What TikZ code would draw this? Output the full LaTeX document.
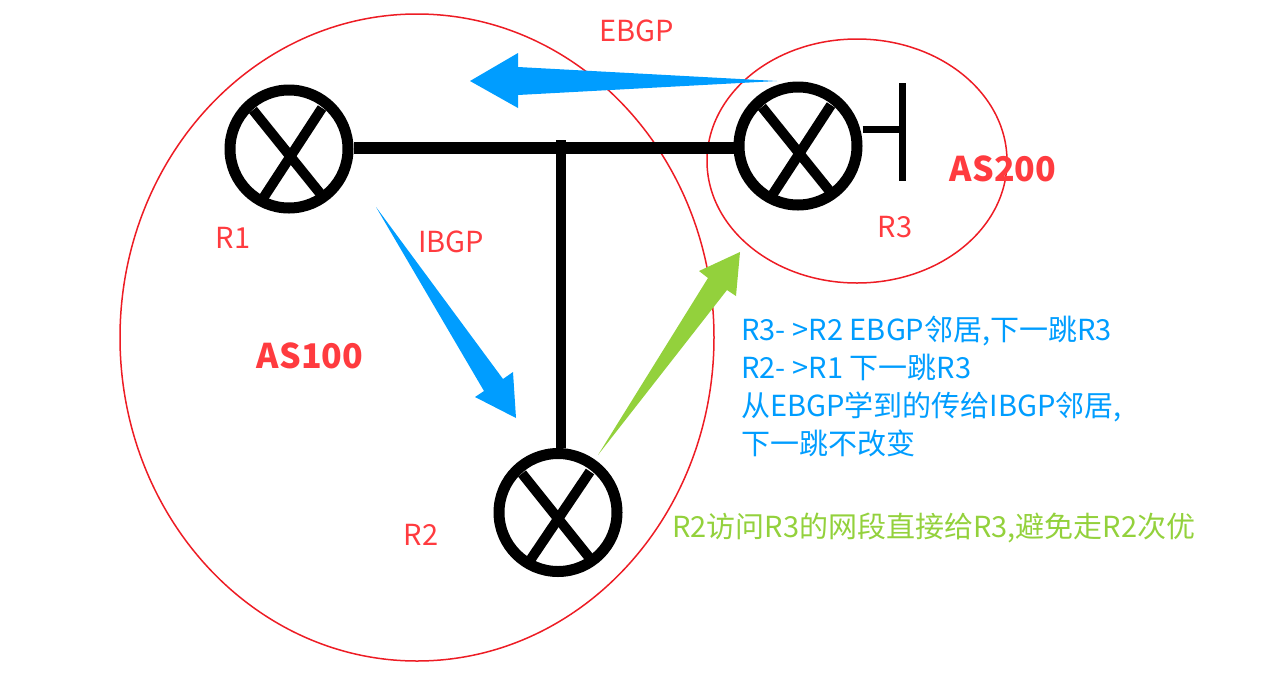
\documentclass[tikz,border=0pt]{standalone}
\usepackage{fontspec}
\usetikzlibrary{shapes.geometric,calc}
\setmainfont{Noto Sans CJK SC}
\definecolor{ringred}{HTML}{ED1C24}
\definecolor{labelred}{HTML}{FF3B3F}
\definecolor{arrowblue}{HTML}{009DFF}
\definecolor{arrowgreen}{HTML}{93D13C}
\tikzset{
  routerbox/.style={circle,draw=black,line width=11pt,inner sep=0pt,minimum size=118pt},
  crossline/.style={line width=10pt,black},
  asring/.style={ellipse,draw=ringred,line width=1.5pt,inner sep=0pt},
  wire/.style={line width=11.5pt,black},
  wirestem/.style={line width=10.5pt,black},
  thinwire/.style={line width=6.5pt,black},
  rlabel/.style={text=labelred,font=\fontsize{29}{34}\selectfont,inner sep=0pt},
  aslabel/.style={text=labelred,font=\fontsize{34}{40}\selectfont\bfseries,inner sep=0pt},
  bluetext/.style={text=arrowblue,font=\fontsize{29}{38}\selectfont,inner sep=0pt,align=left,anchor=west},
  greentext/.style={text=arrowgreen,font=\fontsize{29}{34}\selectfont,inner sep=0pt,anchor=west},
}
\begin{document}
\begin{tikzpicture}[x=1pt,y=-1pt]
\useasboundingbox (0,0) rectangle (1262,673);
% AS rings
\node[asring,minimum width=594pt,minimum height=647pt] (as100) at (417,337.5) {};
\node[asring,minimum width=300pt,minimum height=244pt] (as200) at (857,161) {};
% routers
\node[routerbox] (r1) at (289,149) {};
\node[routerbox] (r2) at (558,512.5) {};
\node[routerbox] (r3) at (798,146) {};
\draw[crossline] ($(r1)+(-36,-39)$) -- ($(r1)+(34,48)$);
\draw[crossline] ($(r1)+(33,-41)$) -- ($(r1)+(-27,51)$);
\draw[crossline] ($(r2)+(-36,-39)$) -- ($(r2)+(32,46)$);
\draw[crossline] ($(r2)+(32,-41)$) -- ($(r2)+(-28,48)$);
\draw[crossline] ($(r3)+(-36,-39)$) -- ($(r3)+(34,48)$);
\draw[crossline] ($(r3)+(33,-41)$) -- ($(r3)+(-27,51)$);
% wires
\coordinate (bar) at (561,148);
\coordinate (stemtop) at (561,140);
\coordinate (stub) at (903,129.5);
\coordinate (captop) at (902.5,83);
\coordinate (capbot) at (902.5,181);
\draw[wire] (r1.east |- bar) -- (r3.west |- bar);
\draw[wirestem] (stemtop) -- (stemtop |- r2.north);
\draw[thinwire] (r3.east |- stub) -- (stub);
\draw[thinwire,line width=7pt] (captop) -- (capbot);
% arrows
\fill[arrowblue] (777,81) -- (518,95) -- (518,108) -- (470,81) -- (518,53) -- (518,67) -- cycle;
\fill[arrowblue] (376,207) -- (503,379) -- (513,372) -- (516,418) -- (475,397) -- (484,391) -- cycle;
\fill[arrowgreen] (598,455) -- (708,278) -- (699,271) -- (740,252) -- (736,296) -- (727,290) -- cycle;
% labels
\node[rlabel] (lebgp) at (637,31) {EBGP};
\node[rlabel] (libgp) at (451,242) {IBGP};
\node[rlabel] (lr1) at (233,238) {R1};
\node[rlabel] (lr2) at (421,535) {R2};
\node[rlabel] (lr3) at (895,227) {R3};
\node[aslabel] (las1) at (310,356) {AS100};
\node[aslabel] (las2) at (1003,169) {AS200};
\node[bluetext] (notes) at (741,387) {R3-\kern7pt>R2 EBGP邻居,下一跳R3\\R2-\kern7pt>R1 下一跳R3\\从EBGP学到的传给IBGP邻居,\\下一跳不改变};
\node[greentext] (green) at (672,528) {R2访问R3的网段直接给R3,避免走R2次优};
\end{tikzpicture}
\end{document}
